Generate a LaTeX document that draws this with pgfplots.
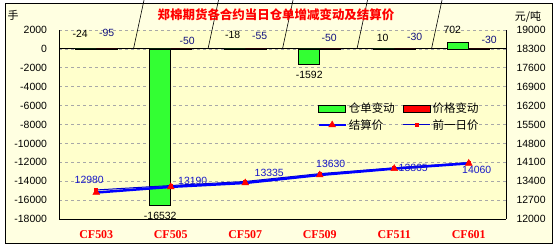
\documentclass[border=0pt]{standalone}
\usepackage{pgfplots}
\pgfplotsset{compat=1.18}
\usepackage{fontspec}
\setmainfont{Liberation Sans}
\newfontfamily\cjk{Noto Sans CJK SC}
\newfontfamily\catfont{Liberation Serif}
\definecolor{chartbg}{HTML}{FFFFE1}
\definecolor{plotbg}{HTML}{FFFFCC}
\definecolor{bargreen}{HTML}{33FF33}
\definecolor{labblue}{HTML}{1818C8}
\definecolor{labnavy}{HTML}{101080}
\definecolor{gridgray}{HTML}{A8A8A8}
\tikzset{numfont/.style={font=\fontsize{10.5}{12}\selectfont}}
\pgfplotsset{
  barleg/.style={legend image code/.code={\draw[##1] (0bp,-3.5bp) rectangle (27bp,3.5bp);}},
  lineleg/.style={legend image code/.code={\draw[mark repeat=2,mark phase=2,##1] plot coordinates {(0bp,0bp) (13.5bp,0bp) (27bp,0bp)};}},
}
\begin{document}
\begin{tikzpicture}
\path[use as bounding box] (-59bp,-31bp) rectangle (496bp,219bp);
\fill[white] (-59bp,-31bp) rectangle (496bp,219bp);
\filldraw[fill=chartbg, draw=black, line width=0.8bp] (-54bp,-24bp) rectangle (493bp,216bp);
\begin{axis}[
  at={(0,0)}, anchor=south west,
  scale only axis, width=447bp, height=189bp,
  xmin=-0.5, xmax=5.5, ymin=-18000, ymax=2000,
  axis y line*=left, axis x line*=bottom,
  axis line style={black, line width=0.8bp, -},
  xtick={0,1,2,3,4,5},
  xticklabels={CF503,CF505,CF507,CF509,CF511,CF601},
  xticklabel style={font=\catfont\bfseries\fontsize{12}{12}\selectfont, text=red, yshift=-8bp},
  ytick={-18000,-16000,-14000,-12000,-10000,-8000,-6000,-4000,-2000,0,2000},
  yticklabel style={numfont, xshift=-8.5bp},
  major tick length=0pt,
  /pgf/number format/assume math mode=true, /pgf/number format/1000 sep={},
  scaled y ticks=false,
  ymajorgrids, major grid style={gridgray, dash pattern=on 3bp off 3bp, line width=0.6bp},
  extra y ticks={0}, extra y tick labels={},
  extra y tick style={ymajorgrids=true, major grid style={solid, black, line width=0.8bp}},
  axis background/.style={fill=plotbg},
  clip=false,
]
\addplot[ybar, bar width=21bp, bar shift=-10.5bp, fill=bargreen, draw=black, line width=0.6bp,
  point meta=explicit symbolic, nodes near coords={\pgfplotspointmeta},
  visualization depends on={value \thisrow{dx}\as\dx},
  visualization depends on={value \thisrow{dy}\as\dy},
  nodes near coords style={numfont, text=black, anchor=center, xshift=\dx bp, yshift=\dy bp}]
  table[x=x, y=y, meta=lab]{
x y lab dx dy
0 -24 -24 -16 15
1 -16532 -16532 -10.5 -11
2 -18 -18 -12.5 14
3 -1592 -1592 -10.5 -11
4 10 10 -11.5 11
5 702 702 -16.5 12
};
\addplot[ybar, bar width=21bp, bar shift=10.5bp, fill=red, draw=black, line width=0.6bp,
  point meta=explicit symbolic, nodes near coords={\pgfplotspointmeta},
  visualization depends on={value \thisrow{dx}\as\dx},
  visualization depends on={value \thisrow{dy}\as\dy},
  nodes near coords style={numfont, text=labnavy, anchor=center, xshift=\dx bp, yshift=\dy bp}]
  table[x=x, y=y, meta=lab]{
x y lab dx dy
0 -95 -95 10.5 17
1 -50 -50 16.5 8
2 -55 -55 14.5 13
3 -50 -50 9.5 11.5
4 -30 -30 20.5 12
5 -30 -30 20.5 9
};
\pgfplotsinvokeforeach{0.5,1.5,2.5,3.5,4.5}{\draw[black, line width=0.6bp] (axis cs:#1,0) -- ++(0,3bp);}
\end{axis}
\begin{axis}[
  at={(0,0)}, anchor=south west,
  scale only axis, width=447bp, height=189bp,
  xmin=-0.5, xmax=5.5, ymin=12000, ymax=19000,
  axis x line=none, axis y line*=right,
  axis line style={black, line width=0.8bp, -},
  ytick={12000,12700,13400,14100,14800,15500,16200,16900,17600,18300,19000},
  yticklabel style={numfont, xshift=7bp},
  major tick length=0pt,
  /pgf/number format/assume math mode=true, /pgf/number format/1000 sep={},
  scaled y ticks=false,
  clip=false,
  legend columns=2,
  legend cell align=left,
  legend style={at={(0.571,0.635)}, anchor=north west, draw=none, fill=none,
    font=\cjk\fontsize{11.5}{13}\selectfont, row sep=1bp,
    /tikz/every even column/.append style={column sep=6bp}},
]
\addlegendimage{barleg, fill=bargreen, draw=black, line width=0.6bp}
\addlegendentry{仓单变动}
\addlegendimage{barleg, fill=red, draw=black, line width=0.6bp}
\addlegendentry{价格变动}
\addlegendimage{lineleg, blue, line width=2.5bp, mark=triangle*, mark size=4bp, mark options={fill=red, draw=red, line width=0.4bp}}
\addlegendentry{结算价}
\addlegendimage{lineleg, blue!80!black, line width=1bp, mark=square*, mark size=1.3bp, mark options={fill=red, draw=red}}
\addlegendentry{前一日价}
\addplot[forget plot, blue!80!black, line width=1bp, mark=square*, mark size=1.3bp, mark options={fill=red, draw=red}]
  table[x=x, y=y]{
x y
0 13075
1 13240
2 13390
3 13680
4 13895
5 14090
};
\addplot[forget plot, blue, line width=2.5bp, mark=triangle*, mark size=4bp, mark options={fill=red, draw=red, line width=0.4bp},
  point meta=explicit symbolic, nodes near coords={\pgfplotspointmeta},
  visualization depends on={value \thisrow{dx}\as\dx},
  visualization depends on={value \thisrow{dy}\as\dy},
  nodes near coords style={numfont, text=labblue, anchor=center, xshift=\dx bp, yshift=\dy bp}]
  table[x=x, y=y, meta=lab]{
x y lab dx dy
0 12980 12980 -7 13
1 13190 13190 22 6
2 13335 13335 24 10
3 13630 13630 11 11
4 13865 13865 19 1
5 14060 14060 8 -7
};
\end{axis}
\node[text=red, font=\cjk\bfseries\fontsize{12.5}{14}\selectfont] at (217bp,204bp) {郑棉期货各合约当日仓单增减变动及结算价};
\node[font=\cjk\fontsize{11}{13}\selectfont] at (-46bp,204bp) {手};
\node[font=\cjk\fontsize{11}{13}\selectfont] at (469bp,202bp) {元/吨};
\end{tikzpicture}
\end{document}
